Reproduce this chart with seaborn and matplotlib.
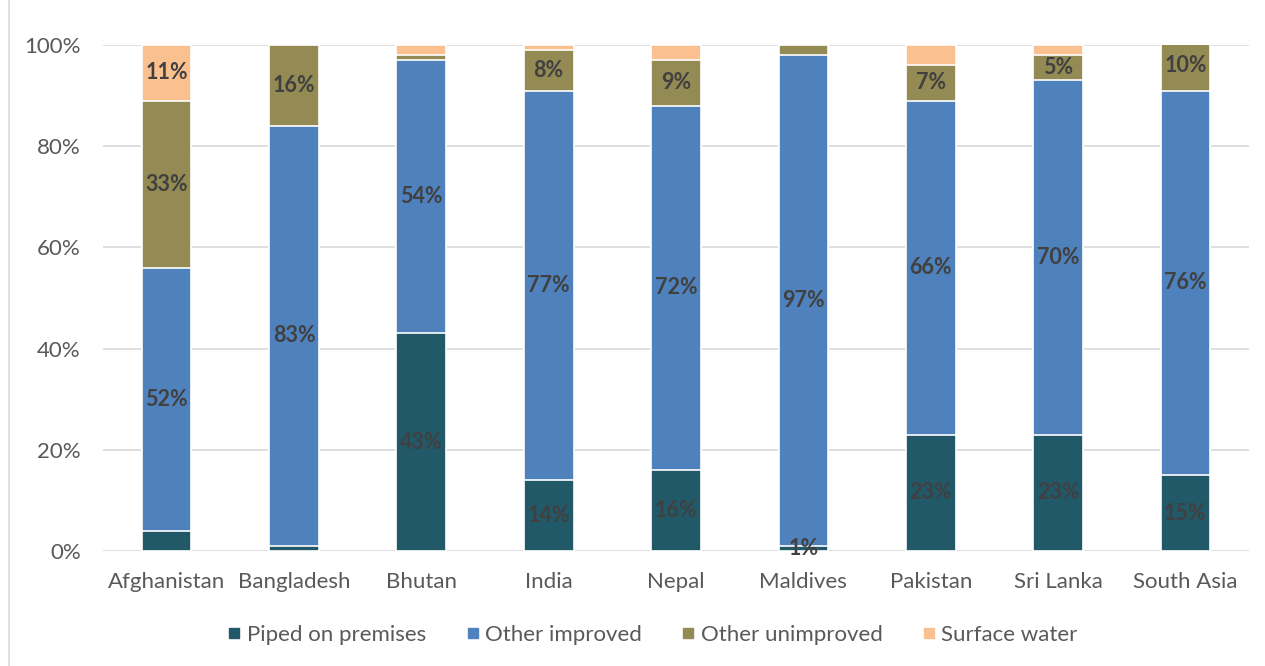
import matplotlib
matplotlib.use("Agg")
import matplotlib.pyplot as plt
import seaborn as sns
import pandas as pd
import numpy as np
from matplotlib.lines import Line2D

categories = ["Afghanistan", "Bangladesh", "Bhutan", "India", "Nepal",
              "Maldives", "Pakistan", "Sri Lanka", "South Asia"]
piped = [4, 1, 43, 14, 16, 1, 23, 23, 15]
other_improved = [52, 83, 54, 77, 72, 97, 66, 70, 76]
other_unimproved = [33, 16, 1, 8, 9, 2, 7, 5, 10]
surface_water = [11, 0, 2, 1, 3, 0, 4, 2, 0]
series_names = ["Piped on premises", "Other improved", "Other unimproved", "Surface water"]
yticks = [0, 20, 40, 60, 80, 100]
# which labels Excel displayed (per series, per category)
show_labels = [
    [0, 0, 1, 1, 1, 1, 1, 1, 1],
    [1, 1, 1, 1, 1, 1, 1, 1, 1],
    [1, 1, 0, 1, 1, 0, 1, 1, 1],
    [1, 0, 0, 0, 0, 0, 0, 0, 0],
]

colors = ["#215968", "#4F81BD", "#948A54", "#FAC090"]
text_grey = "#595959"
label_grey = "#404040"

sns.set_theme(style="white")
plt.rcParams["font.family"] = ["Lato", "DejaVu Sans"]

series = [piped, other_improved, other_unimproved, surface_water]
cum = np.cumsum(np.array(series, dtype=float), axis=0)

fig = plt.figure(figsize=(12.65, 6.66), dpi=100)
ax = fig.add_axes([0.0814, 0.1727, 0.906, 0.7597])

# draw cumulative bars from top series down so each segment shows
for i in range(len(series) - 1, -1, -1):
    df = pd.DataFrame({"Country": categories, "Value": cum[i]})
    sns.barplot(data=df, x="Country", y="Value", order=categories, color=colors[i],
                width=0.39, edgecolor="white", linewidth=1.2, saturation=1,
                ax=ax, zorder=3)

# data labels
for i, vals in enumerate(series):
    for j, v in enumerate(vals):
        if show_labels[i][j] and v > 0:
            base = cum[i][j] - v
            ax.text(j, base + v / 2, f"{v}%", ha="center", va="center",
                    fontsize=15.5, fontweight="bold", color=label_grey, zorder=5)

ax.set_ylim(0, 100)
ax.set_xlim(-0.5, len(categories) - 0.5)
ax.set_yticks(yticks)
ax.set_yticklabels([f"{t}%" for t in yticks])
ax.set_xlabel("")
ax.set_ylabel("")
ax.yaxis.grid(True, color="#D9D9D9", linewidth=1.2, zorder=0)
ax.set_axisbelow(True)
for s in ax.spines.values():
    s.set_visible(False)
ax.tick_params(axis="both", length=0, labelsize=16, colors=text_grey)
ax.tick_params(axis="y", pad=16)
ax.tick_params(axis="x", pad=15)

handles = [Line2D([0], [0], marker="s", linestyle="none", markersize=7.5,
                  markerfacecolor=c, markeredgecolor=c) for c in colors]
fig.legend(handles, series_names, loc="center", bbox_to_anchor=(0.516, 0.047),
           ncol=4, frameon=False, fontsize=16, labelcolor=text_grey,
           handlelength=0.6, handletextpad=0.25, columnspacing=1.8)

# chart-area border on the left
fig.add_artist(Line2D([0.0075, 0.0075], [0, 1], transform=fig.transFigure,
                      color="#D9D9D9", linewidth=1.2))

fig.savefig("out.png", dpi=100)
